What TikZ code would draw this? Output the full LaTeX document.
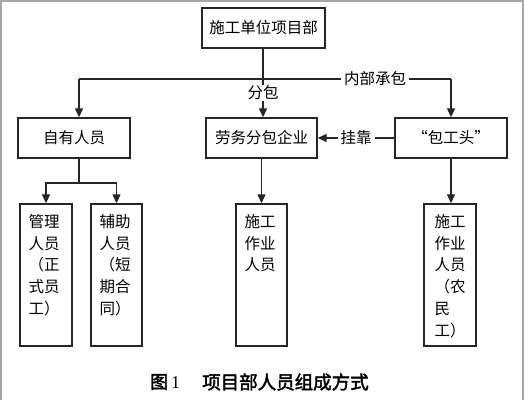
\documentclass[tikz,border=0pt]{standalone}
\usepackage{fontspec}
\usetikzlibrary{arrows.meta}
\newfontfamily\cjk{Noto Sans CJK SC}
\newfontfamily\cjkb[FakeBold=2.2]{Noto Sans CJK SC}
\newfontfamily\numfont{Liberation Serif}
\begin{document}
\begin{tikzpicture}[x=1pt,y=-1pt,
  box/.style={draw=black!85,line width=1.4pt,inner sep=0pt,font=\cjk\fontsize{15.5}{18}\selectfont},
  tall/.style={draw=black!85,line width=1.4pt,inner sep=0pt,minimum height=142pt},
  vtext/.style={anchor=north west,inner sep=0pt,align=left,font=\cjk\fontsize{15.5}{21.7}\selectfont},
  conn/.style={draw=black!85,line width=1.3pt},
  arr/.style={conn,-{Triangle[length=9pt,width=8pt]}},
  lbl/.style={fill=white,inner xsep=3pt,inner ysep=1pt,font=\cjk\fontsize{15.5}{18}\selectfont}]
\useasboundingbox (0,0) rectangle (524,400);
\draw[black!35,line width=1.5pt] (0.75,400) -- (0.75,0.75) -- (522.75,0.75) -- (522.75,400);
% top
\node[box,minimum width=123pt,minimum height=40pt] (top) at (263.5,28) {施工单位项目部};
% second row
\node[box,minimum width=112pt,minimum height=40pt] (ziyou) at (74,138) {自有人员};
\node[box,minimum width=111pt,minimum height=40pt] (laowu) at (261.5,138) {劳务分包企业};
\node[box,minimum width=112pt,minimum height=40pt] (bgt) at (451,138) {“包工头”};
% third row
\node[tall,minimum width=52pt] (guanli) at (46,275) {};
\node[tall,minimum width=51pt] (fuzhu) at (116.5,275) {};
\node[tall,minimum width=51pt] (sg1) at (261.5,275) {};
\node[tall,minimum width=52pt] (sg2) at (450,275) {};
\node[vtext] (tguanli) at ([shift={(9,11)}]guanli.north west) {管理\\人员\\（正\\式员\\工）};
\node[vtext] (tfuzhu) at ([shift={(9,11)}]fuzhu.north west) {辅助\\人员\\（短\\期合\\同）};
\node[vtext] (tsg1) at ([shift={(9,11)}]sg1.north west) {施工\\作业\\人员};
\node[vtext] (tsg2) at ([shift={(11,11)}]sg2.north west) {施工\\作业\\人员\\（农\\民\\工）};
% junctions
\coordinate (jM) at (263,79);
\coordinate (jL) at (79,79);
\coordinate (jR) at (451,79);
\coordinate (jB) at (79,183);
% connectors
\draw[conn] (top.south -| jM) -- (jM);
\draw[conn] (jL) -- (jR) node[pos=0.796,lbl] (nbcb) {内部承包};
\draw[arr] (jL) -- (ziyou.north -| jL);
\draw[arr] (jR) -- (bgt.north -| jR);
\draw[arr] (jM) -- node[pos=0.36,lbl] (fb) {分包} (laowu.north -| jM);
\draw[arr] (bgt.west) -- node[lbl] (gk) {挂靠} (laowu.east);
\draw[conn] (ziyou.south -| jB) -- (jB);
\draw[arr] (jB) -| (guanli.north);
\draw[arr] (jB) -| (fuzhu.north);
\draw[arr] (laowu.south) -- (sg1.north);
\draw[arr] (bgt.south) -- (bgt.south |- sg2.north);
% caption
\node[anchor=west,inner sep=0pt,font=\cjkb\fontsize{18}{20}\selectfont] (cap1) at (150,382) {图\,{\numfont\mdseries 1}};
\node[anchor=west,inner sep=0pt,font=\cjkb\fontsize{18.5}{20}\selectfont] (cap2) at (202,382) {项目部人员组成方式};
\end{tikzpicture}
\end{document}
